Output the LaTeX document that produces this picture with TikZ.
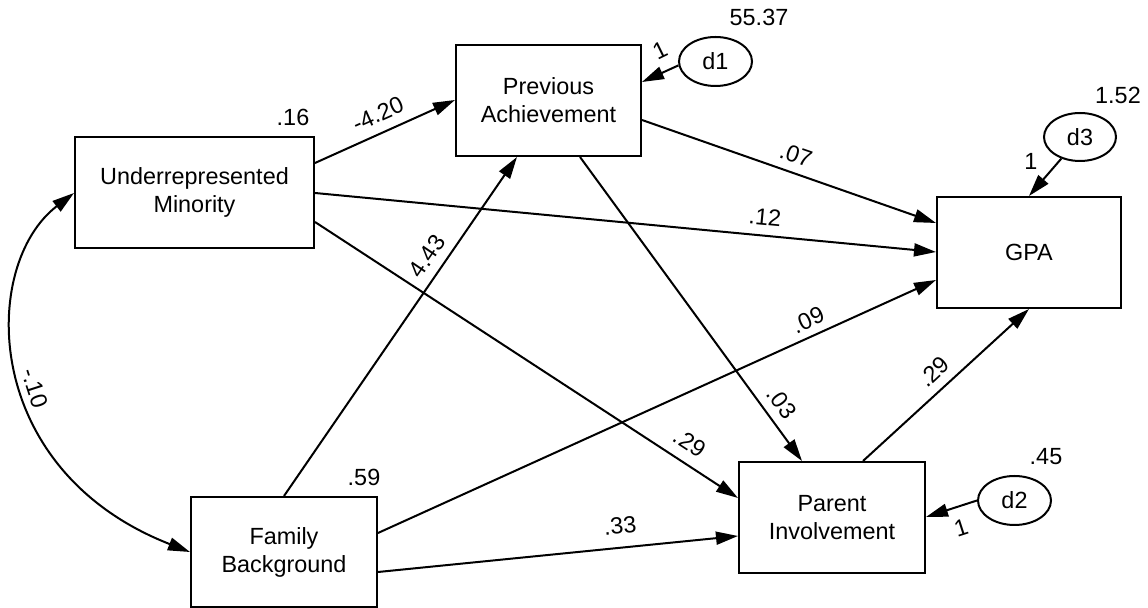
\documentclass[tikz,border=0pt]{standalone}
\usepackage{fontspec}
\setmainfont{Liberation Sans}
\usetikzlibrary{arrows.meta,shapes.geometric}
\begin{document}
\begin{tikzpicture}[x=0.5pt,y=-0.5pt,
  txt/.style={font=\fontsize{11.7}{14}\selectfont},
  box/.style={txt,draw,line width=1pt,rectangle,inner sep=0pt,align=center,minimum height=55.5pt},
  err/.style={txt,draw,line width=1pt,ellipse,inner sep=0pt,minimum width=36.5pt,minimum height=24.5pt},
  lbl/.style={txt,inner sep=0pt},
  arr/.style={line width=1pt,-{Triangle[length=11pt,width=6.5pt]}},
  cov/.style={line width=1pt,{Triangle[length=11pt,width=6.5pt]}-{Triangle[length=11pt,width=6.5pt]}}
]
\useasboundingbox (0,0) rectangle (1148,608);

% boxes
\node[box,minimum width=119.5pt] (UM) at (194.5,192.5) {Underrepresented\\Minority};
\node[box,minimum width=92.5pt] (PA) at (548.5,100.5) {Previous\\Achievement};
\node[box,minimum width=92pt] (GPA) at (1029,252.5) {GPA};
\node[box,minimum width=93pt] (PI) at (832,517.5) {Parent\\Involvement};
\node[box,minimum width=93pt,minimum height=55pt] (FB) at (284,552) {Family\\Background};

% disturbances
\node[err] (d1) at (715.5,61.5) {d1};
\node[err] (d2) at (1014.5,500.5) {d2};
\node[err,minimum width=36pt,minimum height=24pt] (d3) at (1080,137) {d3};

% variances
\node[lbl] (v1) at (759,17) {55.37};
\node[lbl] (v3) at (1118,95) {1.52};
\node[lbl] (v2) at (1046,457) {.45};
\node[lbl] (vUM) at (293,117) {.16};
\node[lbl] (vFB) at (364,477) {.59};

% paths
\draw[arr] (UM.east |- 0,163) -- (PA.west |- 0,100);
\draw[arr] (UM.east |- 0,193) -- (GPA.west |- 0,252);
\draw[arr] (UM.east |- 0,222) -- (PI.west |- 0,498);
\draw[arr] (PA.east |- 0,120) -- (GPA.west |- 0,223);
\draw[arr] (PA.south -| 580,0) -- (PI.north -| 802,0);
\draw[arr] (FB.north) -- (PA.south -| 517,0);
\draw[arr] (FB.east |- 0,533) -- (GPA.west |- 0,280);
\draw[arr] (FB.east |- 0,572) -- (PI.west |- 0,536);
\draw[arr] (PI.north -| 863,0) -- (GPA.south);
\draw[cov] (UM.west |- 0,193) .. controls (-20,265) and (-20,470) .. (FB.west |- 0,552);

\draw[arr] (d1.186) -- (PA.east |- 0,82);
\draw[arr] (d2.west) -- (PI.east |- 0,517);
\draw[arr] (d3) -- (GPA.north);

% coefficient labels
\node[lbl,rotate=24] (c1) at (378,114) {-4.20};
\node[lbl,rotate=-5.4] (c2) at (765,217) {.12};
\node[lbl,rotate=-33] (c3) at (690,443) {.29};
\node[lbl,rotate=-19] (c4) at (796,155) {.07};
\node[lbl,rotate=-54] (c5) at (782,403) {.03};
\node[lbl,rotate=55.7] (c6) at (427,256) {4.43};
\node[lbl,rotate=24.3] (c7) at (808,320) {.09};
\node[lbl,rotate=5.7] (c8) at (620,526) {.33};
\node[lbl,rotate=43] (c9) at (934,372) {.29};
\node[lbl,rotate=-72] (c10) at (35,388) {-.10};

\node[lbl,rotate=26] (f1) at (660,50) {1};
\node[lbl,rotate=18] (f2) at (961,528) {1};
\node[lbl] (f3) at (1031,161) {1};
\end{tikzpicture}
\end{document}
